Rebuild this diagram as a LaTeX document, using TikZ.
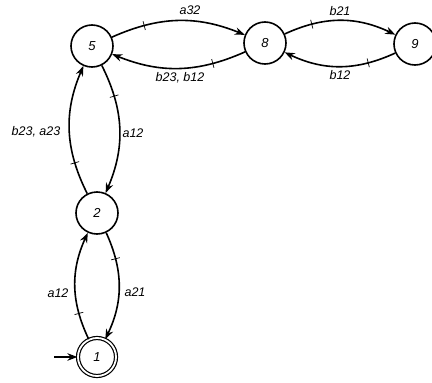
\documentclass[tikz,border=0pt]{standalone}
\usepackage{fontspec}
\setmainfont{Liberation Sans}
\usetikzlibrary{arrows.meta,decorations.markings}
\begin{document}
\begin{tikzpicture}[x=1pt,y=-1pt,
  state/.style={circle,draw,line width=1.6pt,minimum size=42pt,inner sep=0pt,font=\fontsize{13}{15}\selectfont\itshape},
  accept/.style={state,double,double distance=1.8pt,line width=1.2pt,minimum size=38pt},
  tr/.style={line width=1.6pt,-{Stealth[length=10pt,width=7.5pt]},
    postaction={decorate,decoration={markings,mark=at position 0.25 with {\draw[-,line width=0.7pt] (0,-4.5pt)--(0,4.5pt);}}}},
  lbl/.style={font=\fontsize{12.5}{14}\selectfont\itshape}]
\useasboundingbox (0,0) rectangle (432,383);
\node[state] (n5) at (92,46) {5};
\node[state] (n8) at (265,43) {8};
\node[state] (n9) at (415,44) {9};
\node[state] (n2) at (97,213) {2};
\node[accept] (n1) at (97,357) {1};
\coordinate (init) at (54,357);
\draw[line width=1.6pt,-{Stealth[length=10pt,width=7.5pt]}] (init) -- (n1);
\draw[tr] (n5) to[bend left=23] (n8);
\draw[tr] (n8) to[bend left=23] (n5);
\draw[tr] (n8) to[bend left=25] (n9);
\draw[tr] (n9) to[bend left=25] (n8);
\draw[tr] (n5) to[bend left=25] (n2);
\draw[tr] (n2) to[bend left=25] (n5);
\draw[tr] (n2) to[bend left=25] (n1);
\draw[tr] (n1) to[bend left=25] (n2);
\node[lbl] (l1) at (190,10) {a32};
\node[lbl] (l2) at (180,78) {b23, b12};
\node[lbl] (l3) at (340,11) {b21};
\node[lbl] (l4) at (340,75) {b12};
\node[lbl] (l5) at (36,132) {b23, a23};
\node[lbl] (l6) at (133,133) {a12};
\node[lbl] (l7) at (58,293) {a12};
\node[lbl] (l8) at (135,292) {a21};
\end{tikzpicture}
\end{document}
